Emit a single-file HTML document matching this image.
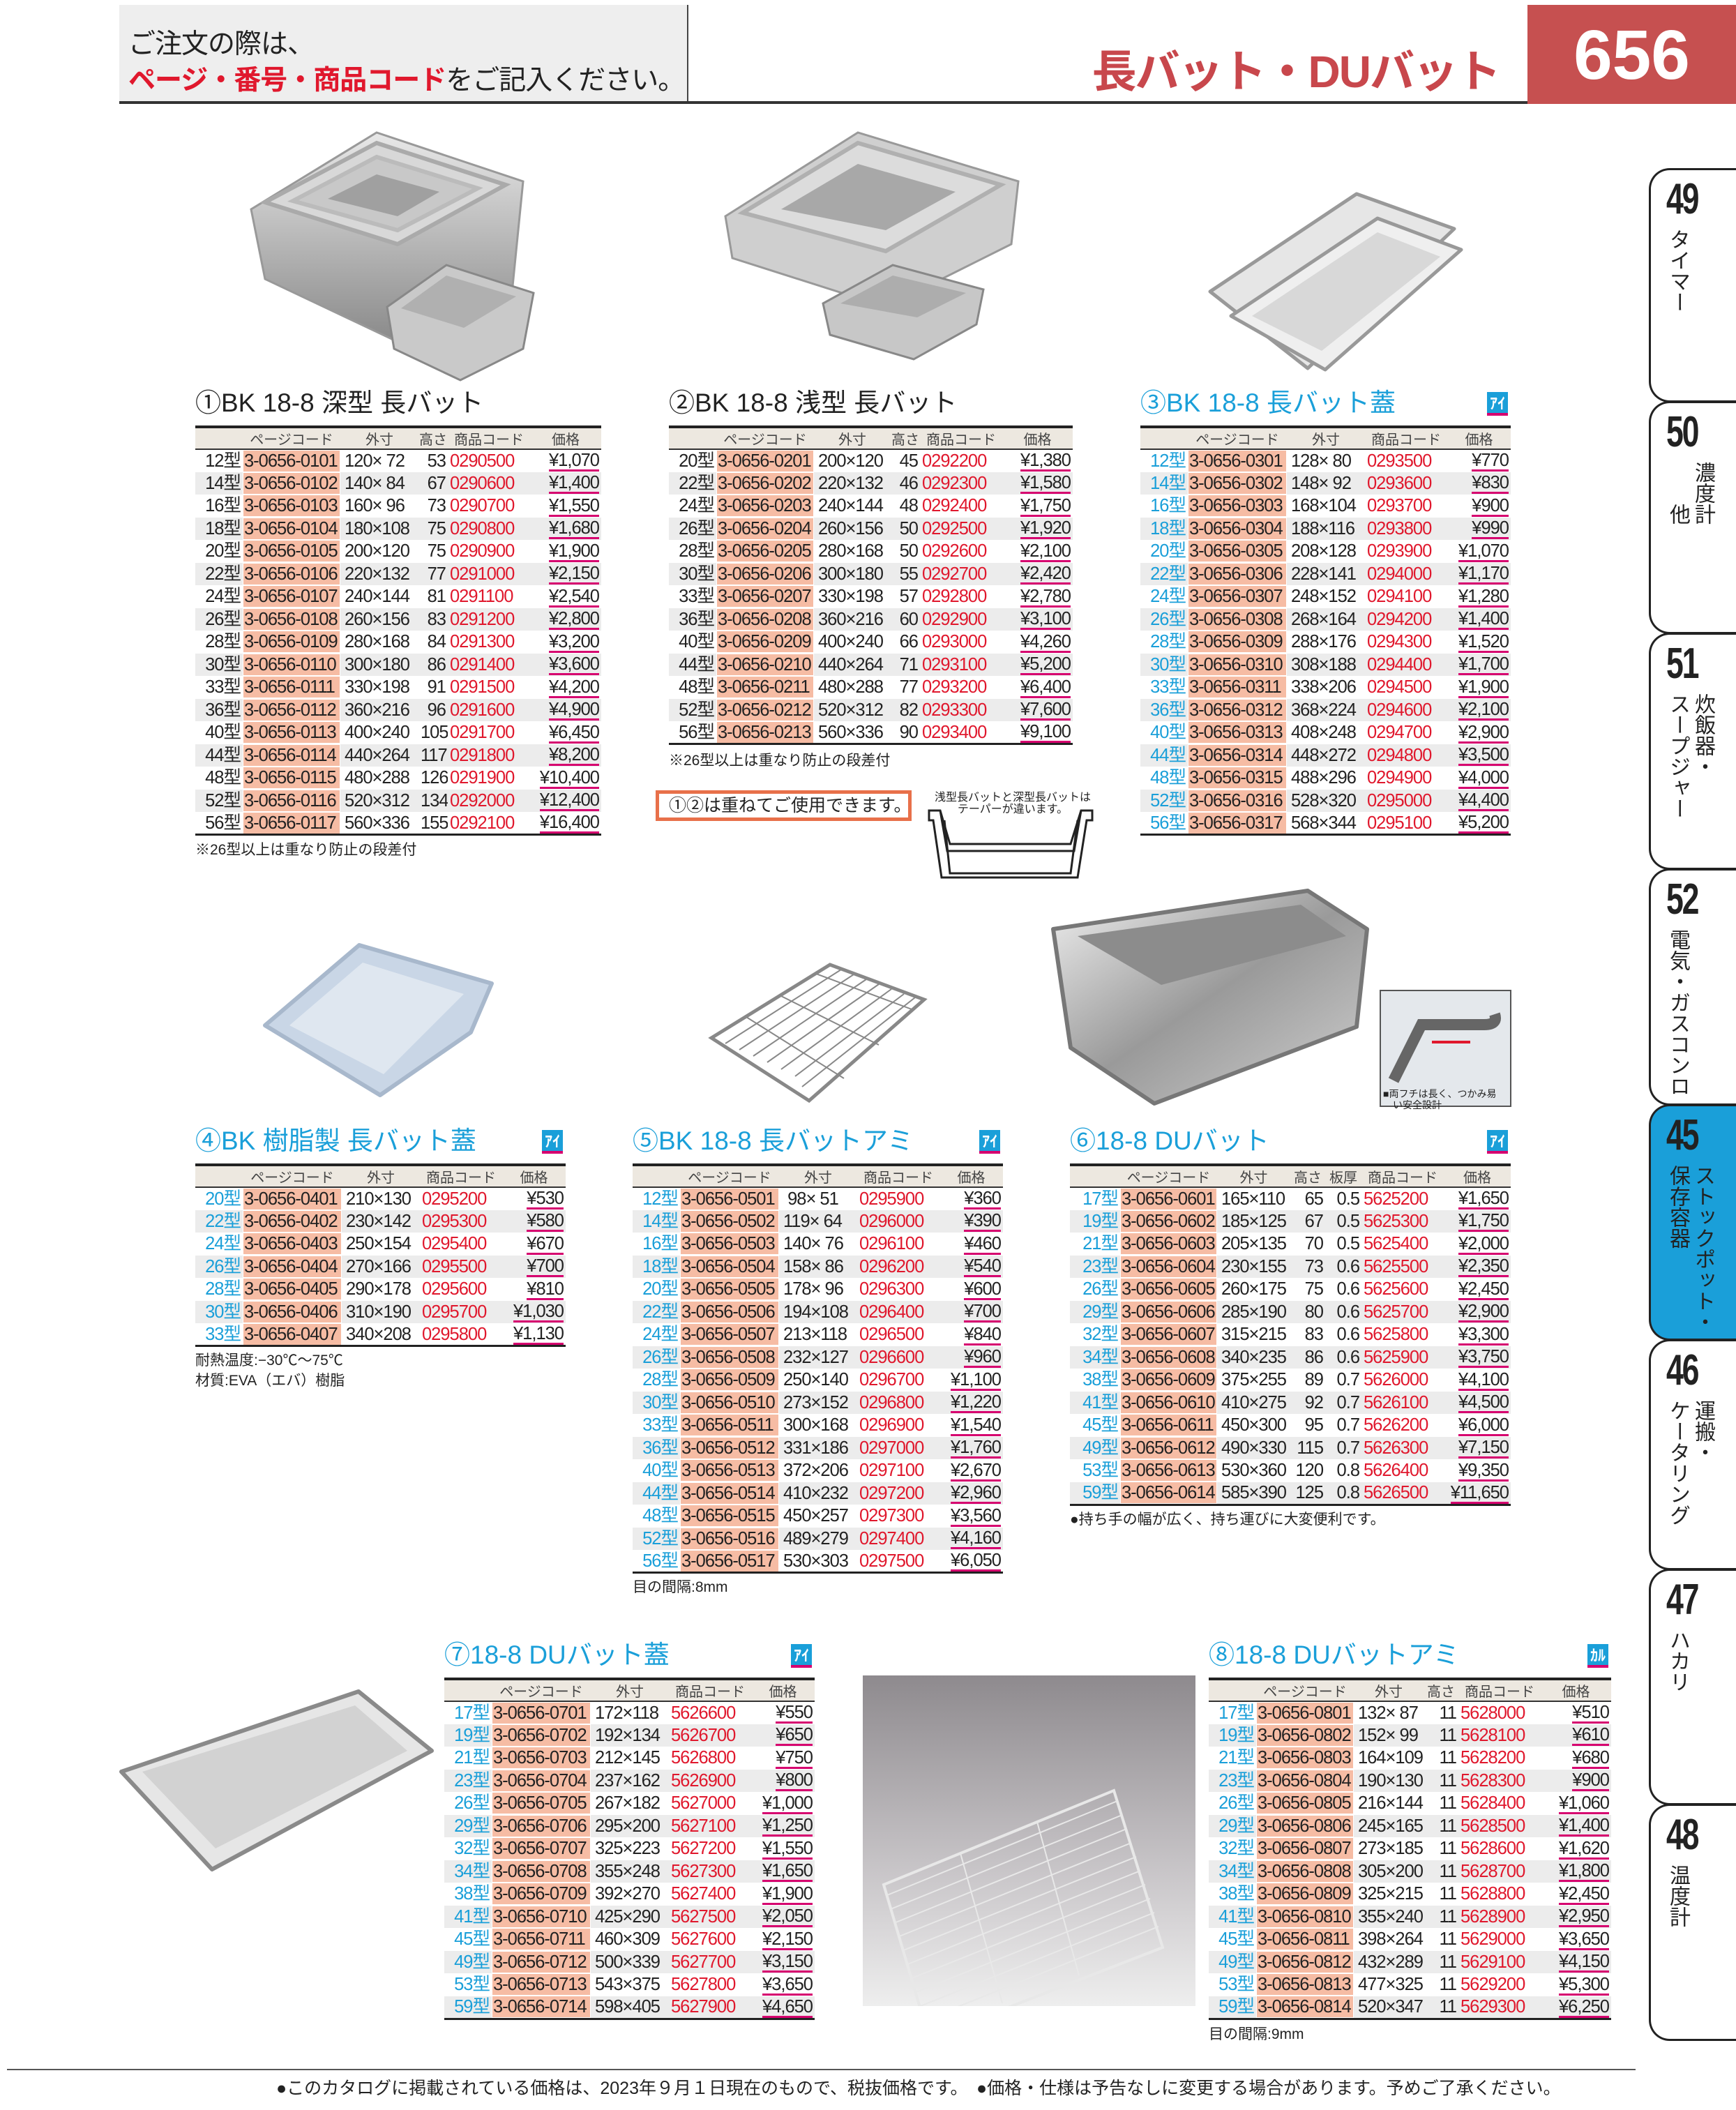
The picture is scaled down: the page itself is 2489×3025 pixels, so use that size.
<!DOCTYPE html>
<html><head><meta charset="utf-8">
<style>
*{margin:0;padding:0;box-sizing:border-box}
body{width:2489px;height:3025px;background:#fff;position:relative;overflow:hidden;font-family:"Liberation Sans","Noto Sans CJK JP",sans-serif;color:#222}
.a{position:absolute}
.ttl{position:absolute;font-size:37px;white-space:nowrap;line-height:44px}
.ttl.b{color:#1a9fd9}
.badge{position:absolute;width:30px;height:34px;background:#1a9fd9;color:#fff;font-size:22px;font-weight:bold;text-align:center;line-height:34px;border-bottom:4px solid #d6006f}
table{position:absolute;border-collapse:collapse;table-layout:fixed;border-top:4px solid #222;border-bottom:3px solid #222}
th{height:30px;background:#ede8e0;font-weight:normal;font-size:20px;color:#444;border-bottom:2px solid #333;white-space:nowrap}
td{height:32.5px;font-size:25.5px;letter-spacing:-1px;white-space:nowrap;overflow:hidden;padding:0 3px;line-height:30px}
tbody tr:nth-child(even) td{background:#ececec}
td.k{text-align:right}
.bl td.k{color:#1a9fd9}
td.p{padding:0 1px}
td.p span{display:block;background:#f6bca4;padding:0 1px}
tbody tr:nth-child(even) td.p{background:#fff}
td.s{text-align:left;padding-left:6px}
td.h{text-align:right}
td.c{color:#e0182d}
td.y{text-align:right}
td.y span{border-bottom:3px solid #d6006f;line-height:26px;display:inline-block}
.note{position:absolute;font-size:21px;white-space:nowrap;color:#222}
.tab{position:absolute;left:2364px;width:140px;border:3px solid #222;border-right:none;border-radius:30px 0 0 30px;background:#fff}
.tab .n{position:absolute;left:22px;top:6px;font-size:62px;font-weight:bold;letter-spacing:-3px;transform:scaleX(.72);transform-origin:left top}
.tab .v{position:absolute;top:84px;left:20px;writing-mode:vertical-rl;font-size:30px;line-height:36px;height:250px}
</style></head><body>

<!-- header -->
<div class="a" style="left:171px;top:7px;width:816px;height:140px;background:#eeeeee;border-right:2px solid #444"></div>
<div class="a" style="left:184px;top:38px;font-size:39px;line-height:52px;white-space:nowrap;letter-spacing:-1px">ご注文の際は、<br><span style="color:#e0182d;font-weight:bold">ページ・番号・商品コード</span>をご記入ください。</div>
<div class="a" style="left:171px;top:145px;width:2020px;height:4px;background:#333"></div>
<div class="a" style="right:339px;top:52px;font-size:64px;font-weight:bold;color:#c8474c;white-space:nowrap;letter-spacing:-2px">長バット・DUバット</div>
<div class="a" style="left:2190px;top:7px;width:299px;height:142px;background:#c65050"></div>
<div class="a" style="left:2190px;top:22px;width:299px;text-align:center;font-size:100px;font-weight:bold;color:#fff">656</div>

<!-- images -->
<svg class="a" style="left:340px;top:180px" width="430" height="370" viewBox="0 0 430 370">
<defs><linearGradient id="g1" x1="0" y1="0" x2="0" y2="1"><stop offset="0" stop-color="#e8e8e8"/><stop offset="1" stop-color="#8a8a8a"/></linearGradient></defs>
<polygon points="20,120 200,10 410,80 395,230 230,310 40,220" fill="url(#g1)" stroke="#999" stroke-width="3"/>
<polygon points="40,110 200,25 385,85 230,170" fill="#d8d8d8" stroke="#aaa" stroke-width="6"/>
<polygon points="80,108 200,45 345,90 230,150" fill="#c8c8c8" stroke="#bbb" stroke-width="6"/>
<polygon points="130,105 200,70 290,95 230,130" fill="#a0a0a0"/>
<polygon points="215,260 300,200 425,240 410,320 320,365 225,320" fill="#c9c9c9" stroke="#888" stroke-width="3"/>
<polygon points="235,262 300,215 400,245 325,290" fill="#b0b0b0"/>
</svg>
<svg class="a" style="left:1030px;top:180px" width="440" height="340" viewBox="0 0 440 340">
<polygon points="10,130 200,10 430,80 420,170 240,260 20,190" fill="#cfcfcf" stroke="#999" stroke-width="3"/>
<polygon points="35,125 200,25 405,85 240,180" fill="#dcdcdc" stroke="#b0b0b0" stroke-width="6"/>
<polygon points="90,120 200,55 340,95 240,150" fill="#a8a8a8"/>
<polygon points="150,255 250,200 380,235 370,285 280,335 160,300" fill="#c7c7c7" stroke="#888" stroke-width="3"/>
<polygon points="175,255 250,215 355,240 285,275" fill="#adadad"/>
</svg>
<svg class="a" style="left:1725px;top:268px" width="375" height="265" viewBox="0 0 375 265">
<polygon points="10,150 220,10 360,60 150,260" fill="#e6e6e6" stroke="#999" stroke-width="5" stroke-linejoin="round"/>
<polygon points="40,185 250,45 370,90 175,262" fill="#efefef" stroke="#999" stroke-width="5" stroke-linejoin="round"/>
<polygon points="70,185 250,65 340,100 170,235" fill="#d8d8d8"/>
</svg>
<svg class="a" style="left:375px;top:1350px" width="335" height="225" viewBox="0 0 335 225">
<polygon points="5,120 140,5 330,60 300,130 170,220" fill="#c9d6e6" stroke="#a8b8cc" stroke-width="6" stroke-linejoin="round"/>
<polygon points="40,120 145,30 290,75 175,190" fill="#dfe7f0"/>
</svg>
<svg class="a" style="left:1010px;top:1378px" width="325" height="225" viewBox="0 0 325 225" fill="none" stroke="#888" stroke-width="3">
<polygon points="10,110 180,5 315,55 150,200" stroke-width="5"/>
<g stroke-width="2">
<line x1="30" y1="118" x2="196" y2="12"/><line x1="50" y1="127" x2="214" y2="19"/><line x1="70" y1="136" x2="232" y2="26"/><line x1="90" y1="145" x2="250" y2="33"/><line x1="110" y1="155" x2="268" y2="40"/><line x1="130" y1="165" x2="286" y2="47"/><line x1="140" y1="180" x2="302" y2="52"/>
<line x1="10" y1="110" x2="150" y2="200"/><line x1="60" y1="80" x2="200" y2="168"/><line x1="110" y1="50" x2="250" y2="120"/><line x1="160" y1="18" x2="300" y2="70"/></g>
</svg>
<svg class="a" style="left:1505px;top:1272px" width="460" height="315" viewBox="0 0 460 315">
<defs><linearGradient id="g6" x1="0" y1="0" x2="1" y2="1"><stop offset="0" stop-color="#f0f0f0"/><stop offset=".5" stop-color="#9a9a9a"/><stop offset="1" stop-color="#d0d0d0"/></linearGradient></defs>
<polygon points="5,60 370,5 455,60 440,200 150,310 30,230" fill="url(#g6)" stroke="#777" stroke-width="6" stroke-linejoin="round"/>
<polygon points="40,70 360,25 425,70 160,140" fill="#8c8c8c"/>
</svg>
<div class="a" style="left:1978px;top:1419px;width:189px;height:168px;border:2px solid #555;background:#e4e8ec"></div>
<svg class="a" style="left:1978px;top:1419px" width="189" height="140" viewBox="0 0 189 140"><path d="M20 130 L60 50 L150 50 Q170 50 165 35" fill="none" stroke="#666" stroke-width="16"/><line x1="75" y1="75" x2="130" y2="75" stroke="#e0182d" stroke-width="4"/></svg>
<div class="note" style="left:1983px;top:1560px;font-size:14px;line-height:16px">■両フチは長く、つかみ易<br>　い安全設計</div>
<svg class="a" style="left:164px;top:2420px" width="460" height="265" viewBox="0 0 460 265">
<polygon points="10,120 350,5 455,90 140,260" fill="#e6e6e6" stroke="#8a8a8a" stroke-width="6" stroke-linejoin="round"/>
<polygon points="40,120 345,25 420,90 145,230" fill="#d2d2d2"/>
</svg>
<div class="a" style="left:1237px;top:2402px;width:477px;height:474px;background:linear-gradient(#8e8a8e,#c9c6c9 60%,#eeeeee)"></div>
<svg class="a" style="left:1237px;top:2402px" width="477" height="474" viewBox="0 0 477 474" fill="none" stroke="#e8e8e8">
<polygon points="30,300 360,165 430,390 95,520" stroke-width="4"/>
<g stroke-width="2"><line x1="35" y1="315" x2="365" y2="180"/><line x1="40" y1="335" x2="372" y2="200"/><line x1="45" y1="355" x2="378" y2="220"/><line x1="50" y1="375" x2="385" y2="240"/><line x1="56" y1="395" x2="392" y2="260"/><line x1="62" y1="415" x2="398" y2="280"/><line x1="68" y1="435" x2="405" y2="300"/><line x1="74" y1="455" x2="412" y2="320"/><line x1="80" y1="475" x2="418" y2="340"/><line x1="86" y1="495" x2="424" y2="360"/>
<line x1="140" y1="255" x2="200" y2="470"/><line x1="250" y1="210" x2="310" y2="430"/></g>
</svg>

<!-- T1 -->
<div class="ttl" style="left:280px;top:556px">①BK 18-8 深型 長バット</div>
<table style="left:280px;top:610px;width:582px">
<colgroup><col style="width:68px"><col style="width:140px"><col style="width:112px"><col style="width:42px"><col style="width:118px"><col style="width:102px"></colgroup>
<thead><tr><th></th><th>ページコード</th><th>外寸</th><th>高さ</th><th>商品コード</th><th>価格</th></tr></thead>
<tbody>
<tr><td class="k">12型</td><td class="p"><span>3-0656-0101</span></td><td class="s">120× 72</td><td class="h">53</td><td class="c">0290500</td><td class="y"><span>¥1,070</span></td></tr>
<tr><td class="k">14型</td><td class="p"><span>3-0656-0102</span></td><td class="s">140× 84</td><td class="h">67</td><td class="c">0290600</td><td class="y"><span>¥1,400</span></td></tr>
<tr><td class="k">16型</td><td class="p"><span>3-0656-0103</span></td><td class="s">160× 96</td><td class="h">73</td><td class="c">0290700</td><td class="y"><span>¥1,550</span></td></tr>
<tr><td class="k">18型</td><td class="p"><span>3-0656-0104</span></td><td class="s">180×108</td><td class="h">75</td><td class="c">0290800</td><td class="y"><span>¥1,680</span></td></tr>
<tr><td class="k">20型</td><td class="p"><span>3-0656-0105</span></td><td class="s">200×120</td><td class="h">75</td><td class="c">0290900</td><td class="y"><span>¥1,900</span></td></tr>
<tr><td class="k">22型</td><td class="p"><span>3-0656-0106</span></td><td class="s">220×132</td><td class="h">77</td><td class="c">0291000</td><td class="y"><span>¥2,150</span></td></tr>
<tr><td class="k">24型</td><td class="p"><span>3-0656-0107</span></td><td class="s">240×144</td><td class="h">81</td><td class="c">0291100</td><td class="y"><span>¥2,540</span></td></tr>
<tr><td class="k">26型</td><td class="p"><span>3-0656-0108</span></td><td class="s">260×156</td><td class="h">83</td><td class="c">0291200</td><td class="y"><span>¥2,800</span></td></tr>
<tr><td class="k">28型</td><td class="p"><span>3-0656-0109</span></td><td class="s">280×168</td><td class="h">84</td><td class="c">0291300</td><td class="y"><span>¥3,200</span></td></tr>
<tr><td class="k">30型</td><td class="p"><span>3-0656-0110</span></td><td class="s">300×180</td><td class="h">86</td><td class="c">0291400</td><td class="y"><span>¥3,600</span></td></tr>
<tr><td class="k">33型</td><td class="p"><span>3-0656-0111</span></td><td class="s">330×198</td><td class="h">91</td><td class="c">0291500</td><td class="y"><span>¥4,200</span></td></tr>
<tr><td class="k">36型</td><td class="p"><span>3-0656-0112</span></td><td class="s">360×216</td><td class="h">96</td><td class="c">0291600</td><td class="y"><span>¥4,900</span></td></tr>
<tr><td class="k">40型</td><td class="p"><span>3-0656-0113</span></td><td class="s">400×240</td><td class="h">105</td><td class="c">0291700</td><td class="y"><span>¥6,450</span></td></tr>
<tr><td class="k">44型</td><td class="p"><span>3-0656-0114</span></td><td class="s">440×264</td><td class="h">117</td><td class="c">0291800</td><td class="y"><span>¥8,200</span></td></tr>
<tr><td class="k">48型</td><td class="p"><span>3-0656-0115</span></td><td class="s">480×288</td><td class="h">126</td><td class="c">0291900</td><td class="y"><span>¥10,400</span></td></tr>
<tr><td class="k">52型</td><td class="p"><span>3-0656-0116</span></td><td class="s">520×312</td><td class="h">134</td><td class="c">0292000</td><td class="y"><span>¥12,400</span></td></tr>
<tr><td class="k">56型</td><td class="p"><span>3-0656-0117</span></td><td class="s">560×336</td><td class="h">155</td><td class="c">0292100</td><td class="y"><span>¥16,400</span></td></tr>
</tbody></table>
<div class="note" style="left:280px;top:1202px">※26型以上は重なり防止の段差付</div>

<!-- T2 -->
<div class="ttl" style="left:959px;top:556px">②BK 18-8 浅型 長バット</div>
<table style="left:959px;top:610px;width:579px">
<colgroup><col style="width:68px"><col style="width:140px"><col style="width:110px"><col style="width:42px"><col style="width:118px"><col style="width:101px"></colgroup>
<thead><tr><th></th><th>ページコード</th><th>外寸</th><th>高さ</th><th>商品コード</th><th>価格</th></tr></thead>
<tbody>
<tr><td class="k">20型</td><td class="p"><span>3-0656-0201</span></td><td class="s">200×120</td><td class="h">45</td><td class="c">0292200</td><td class="y"><span>¥1,380</span></td></tr>
<tr><td class="k">22型</td><td class="p"><span>3-0656-0202</span></td><td class="s">220×132</td><td class="h">46</td><td class="c">0292300</td><td class="y"><span>¥1,580</span></td></tr>
<tr><td class="k">24型</td><td class="p"><span>3-0656-0203</span></td><td class="s">240×144</td><td class="h">48</td><td class="c">0292400</td><td class="y"><span>¥1,750</span></td></tr>
<tr><td class="k">26型</td><td class="p"><span>3-0656-0204</span></td><td class="s">260×156</td><td class="h">50</td><td class="c">0292500</td><td class="y"><span>¥1,920</span></td></tr>
<tr><td class="k">28型</td><td class="p"><span>3-0656-0205</span></td><td class="s">280×168</td><td class="h">50</td><td class="c">0292600</td><td class="y"><span>¥2,100</span></td></tr>
<tr><td class="k">30型</td><td class="p"><span>3-0656-0206</span></td><td class="s">300×180</td><td class="h">55</td><td class="c">0292700</td><td class="y"><span>¥2,420</span></td></tr>
<tr><td class="k">33型</td><td class="p"><span>3-0656-0207</span></td><td class="s">330×198</td><td class="h">57</td><td class="c">0292800</td><td class="y"><span>¥2,780</span></td></tr>
<tr><td class="k">36型</td><td class="p"><span>3-0656-0208</span></td><td class="s">360×216</td><td class="h">60</td><td class="c">0292900</td><td class="y"><span>¥3,100</span></td></tr>
<tr><td class="k">40型</td><td class="p"><span>3-0656-0209</span></td><td class="s">400×240</td><td class="h">66</td><td class="c">0293000</td><td class="y"><span>¥4,260</span></td></tr>
<tr><td class="k">44型</td><td class="p"><span>3-0656-0210</span></td><td class="s">440×264</td><td class="h">71</td><td class="c">0293100</td><td class="y"><span>¥5,200</span></td></tr>
<tr><td class="k">48型</td><td class="p"><span>3-0656-0211</span></td><td class="s">480×288</td><td class="h">77</td><td class="c">0293200</td><td class="y"><span>¥6,400</span></td></tr>
<tr><td class="k">52型</td><td class="p"><span>3-0656-0212</span></td><td class="s">520×312</td><td class="h">82</td><td class="c">0293300</td><td class="y"><span>¥7,600</span></td></tr>
<tr><td class="k">56型</td><td class="p"><span>3-0656-0213</span></td><td class="s">560×336</td><td class="h">90</td><td class="c">0293400</td><td class="y"><span>¥9,100</span></td></tr>
</tbody></table>
<div class="note" style="left:959px;top:1074px">※26型以上は重なり防止の段差付</div>
<div class="a" style="left:940px;top:1133px;width:367px;height:44px;border:5px solid #e8704a;font-size:25px;line-height:34px;padding-left:14px;white-space:nowrap">①②は重ねてご使用できます。</div>
<div class="note" style="left:1340px;top:1135px;font-size:16px;line-height:17px;text-align:center">浅型長バットと深型長バットは<br>テーパーが違います。</div>
<svg class="a" style="left:1330px;top:1160px" width="240" height="110" viewBox="0 0 240 110" fill="none" stroke="#222" stroke-width="3">
<path d="M2 2 H18 L32 50 H205 L220 2 H236 V16 H228 L215 98 H20 L8 16 H2 Z"/><path d="M18 2 L28 60 H210 L220 2"/><path d="M24 16 L32 92 H205 L215 16"/>
</svg>

<!-- T3 -->
<div class="ttl b" style="left:1635px;top:556px">③BK 18-8 長バット蓋</div>
<div class="badge" style="left:2132px;top:562px">ｱｲ</div>
<table class="bl" style="left:1635px;top:610px;width:531px">
<colgroup><col style="width:68px"><col style="width:142px"><col style="width:112px"><col style="width:118px"><col style="width:91px"></colgroup>
<thead><tr><th></th><th>ページコード</th><th>外寸</th><th>商品コード</th><th>価格</th></tr></thead>
<tbody>
<tr><td class="k">12型</td><td class="p"><span>3-0656-0301</span></td><td class="s">128× 80</td><td class="c">0293500</td><td class="y"><span>¥770</span></td></tr>
<tr><td class="k">14型</td><td class="p"><span>3-0656-0302</span></td><td class="s">148× 92</td><td class="c">0293600</td><td class="y"><span>¥830</span></td></tr>
<tr><td class="k">16型</td><td class="p"><span>3-0656-0303</span></td><td class="s">168×104</td><td class="c">0293700</td><td class="y"><span>¥900</span></td></tr>
<tr><td class="k">18型</td><td class="p"><span>3-0656-0304</span></td><td class="s">188×116</td><td class="c">0293800</td><td class="y"><span>¥990</span></td></tr>
<tr><td class="k">20型</td><td class="p"><span>3-0656-0305</span></td><td class="s">208×128</td><td class="c">0293900</td><td class="y"><span>¥1,070</span></td></tr>
<tr><td class="k">22型</td><td class="p"><span>3-0656-0306</span></td><td class="s">228×141</td><td class="c">0294000</td><td class="y"><span>¥1,170</span></td></tr>
<tr><td class="k">24型</td><td class="p"><span>3-0656-0307</span></td><td class="s">248×152</td><td class="c">0294100</td><td class="y"><span>¥1,280</span></td></tr>
<tr><td class="k">26型</td><td class="p"><span>3-0656-0308</span></td><td class="s">268×164</td><td class="c">0294200</td><td class="y"><span>¥1,400</span></td></tr>
<tr><td class="k">28型</td><td class="p"><span>3-0656-0309</span></td><td class="s">288×176</td><td class="c">0294300</td><td class="y"><span>¥1,520</span></td></tr>
<tr><td class="k">30型</td><td class="p"><span>3-0656-0310</span></td><td class="s">308×188</td><td class="c">0294400</td><td class="y"><span>¥1,700</span></td></tr>
<tr><td class="k">33型</td><td class="p"><span>3-0656-0311</span></td><td class="s">338×206</td><td class="c">0294500</td><td class="y"><span>¥1,900</span></td></tr>
<tr><td class="k">36型</td><td class="p"><span>3-0656-0312</span></td><td class="s">368×224</td><td class="c">0294600</td><td class="y"><span>¥2,100</span></td></tr>
<tr><td class="k">40型</td><td class="p"><span>3-0656-0313</span></td><td class="s">408×248</td><td class="c">0294700</td><td class="y"><span>¥2,900</span></td></tr>
<tr><td class="k">44型</td><td class="p"><span>3-0656-0314</span></td><td class="s">448×272</td><td class="c">0294800</td><td class="y"><span>¥3,500</span></td></tr>
<tr><td class="k">48型</td><td class="p"><span>3-0656-0315</span></td><td class="s">488×296</td><td class="c">0294900</td><td class="y"><span>¥4,000</span></td></tr>
<tr><td class="k">52型</td><td class="p"><span>3-0656-0316</span></td><td class="s">528×320</td><td class="c">0295000</td><td class="y"><span>¥4,400</span></td></tr>
<tr><td class="k">56型</td><td class="p"><span>3-0656-0317</span></td><td class="s">568×344</td><td class="c">0295100</td><td class="y"><span>¥5,200</span></td></tr>
</tbody></table>

<!-- T4 -->
<div class="ttl b" style="left:280px;top:1614px">④BK 樹脂製 長バット蓋</div>
<div class="badge" style="left:777px;top:1620px">ｱｲ</div>
<table class="bl" style="left:280px;top:1668px;width:531px">
<colgroup><col style="width:68px"><col style="width:142px"><col style="width:112px"><col style="width:118px"><col style="width:91px"></colgroup>
<thead><tr><th></th><th>ページコード</th><th>外寸</th><th>商品コード</th><th>価格</th></tr></thead>
<tbody>
<tr><td class="k">20型</td><td class="p"><span>3-0656-0401</span></td><td class="s">210×130</td><td class="c">0295200</td><td class="y"><span>¥530</span></td></tr>
<tr><td class="k">22型</td><td class="p"><span>3-0656-0402</span></td><td class="s">230×142</td><td class="c">0295300</td><td class="y"><span>¥580</span></td></tr>
<tr><td class="k">24型</td><td class="p"><span>3-0656-0403</span></td><td class="s">250×154</td><td class="c">0295400</td><td class="y"><span>¥670</span></td></tr>
<tr><td class="k">26型</td><td class="p"><span>3-0656-0404</span></td><td class="s">270×166</td><td class="c">0295500</td><td class="y"><span>¥700</span></td></tr>
<tr><td class="k">28型</td><td class="p"><span>3-0656-0405</span></td><td class="s">290×178</td><td class="c">0295600</td><td class="y"><span>¥810</span></td></tr>
<tr><td class="k">30型</td><td class="p"><span>3-0656-0406</span></td><td class="s">310×190</td><td class="c">0295700</td><td class="y"><span>¥1,030</span></td></tr>
<tr><td class="k">33型</td><td class="p"><span>3-0656-0407</span></td><td class="s">340×208</td><td class="c">0295800</td><td class="y"><span>¥1,130</span></td></tr>
</tbody></table>
<div class="note" style="left:280px;top:1936px;line-height:29px">耐熱温度:−30℃〜75℃<br>材質:EVA（エバ）樹脂</div>

<!-- T5 -->
<div class="ttl b" style="left:907px;top:1614px">⑤BK 18-8 長バットアミ</div>
<div class="badge" style="left:1404px;top:1620px">ｱｲ</div>
<table class="bl" style="left:907px;top:1668px;width:531px">
<colgroup><col style="width:68px"><col style="width:142px"><col style="width:112px"><col style="width:118px"><col style="width:91px"></colgroup>
<thead><tr><th></th><th>ページコード</th><th>外寸</th><th>商品コード</th><th>価格</th></tr></thead>
<tbody>
<tr><td class="k">12型</td><td class="p"><span>3-0656-0501</span></td><td class="s">&nbsp;98× 51</td><td class="c">0295900</td><td class="y"><span>¥360</span></td></tr>
<tr><td class="k">14型</td><td class="p"><span>3-0656-0502</span></td><td class="s">119× 64</td><td class="c">0296000</td><td class="y"><span>¥390</span></td></tr>
<tr><td class="k">16型</td><td class="p"><span>3-0656-0503</span></td><td class="s">140× 76</td><td class="c">0296100</td><td class="y"><span>¥460</span></td></tr>
<tr><td class="k">18型</td><td class="p"><span>3-0656-0504</span></td><td class="s">158× 86</td><td class="c">0296200</td><td class="y"><span>¥540</span></td></tr>
<tr><td class="k">20型</td><td class="p"><span>3-0656-0505</span></td><td class="s">178× 96</td><td class="c">0296300</td><td class="y"><span>¥600</span></td></tr>
<tr><td class="k">22型</td><td class="p"><span>3-0656-0506</span></td><td class="s">194×108</td><td class="c">0296400</td><td class="y"><span>¥700</span></td></tr>
<tr><td class="k">24型</td><td class="p"><span>3-0656-0507</span></td><td class="s">213×118</td><td class="c">0296500</td><td class="y"><span>¥840</span></td></tr>
<tr><td class="k">26型</td><td class="p"><span>3-0656-0508</span></td><td class="s">232×127</td><td class="c">0296600</td><td class="y"><span>¥960</span></td></tr>
<tr><td class="k">28型</td><td class="p"><span>3-0656-0509</span></td><td class="s">250×140</td><td class="c">0296700</td><td class="y"><span>¥1,100</span></td></tr>
<tr><td class="k">30型</td><td class="p"><span>3-0656-0510</span></td><td class="s">273×152</td><td class="c">0296800</td><td class="y"><span>¥1,220</span></td></tr>
<tr><td class="k">33型</td><td class="p"><span>3-0656-0511</span></td><td class="s">300×168</td><td class="c">0296900</td><td class="y"><span>¥1,540</span></td></tr>
<tr><td class="k">36型</td><td class="p"><span>3-0656-0512</span></td><td class="s">331×186</td><td class="c">0297000</td><td class="y"><span>¥1,760</span></td></tr>
<tr><td class="k">40型</td><td class="p"><span>3-0656-0513</span></td><td class="s">372×206</td><td class="c">0297100</td><td class="y"><span>¥2,670</span></td></tr>
<tr><td class="k">44型</td><td class="p"><span>3-0656-0514</span></td><td class="s">410×232</td><td class="c">0297200</td><td class="y"><span>¥2,960</span></td></tr>
<tr><td class="k">48型</td><td class="p"><span>3-0656-0515</span></td><td class="s">450×257</td><td class="c">0297300</td><td class="y"><span>¥3,560</span></td></tr>
<tr><td class="k">52型</td><td class="p"><span>3-0656-0516</span></td><td class="s">489×279</td><td class="c">0297400</td><td class="y"><span>¥4,160</span></td></tr>
<tr><td class="k">56型</td><td class="p"><span>3-0656-0517</span></td><td class="s">530×303</td><td class="c">0297500</td><td class="y"><span>¥6,050</span></td></tr>
</tbody></table>
<div class="note" style="left:907px;top:2259px">目の間隔:8mm</div>

<!-- T6 -->
<div class="ttl b" style="left:1534px;top:1614px">⑥18-8 DUバット</div>
<div class="badge" style="left:2132px;top:1620px">ｱｲ</div>
<table class="bl" style="left:1534px;top:1668px;width:632px">
<colgroup><col style="width:72px"><col style="width:139px"><col style="width:105px"><col style="width:50px"><col style="width:52px"><col style="width:118px"><col style="width:96px"></colgroup>
<thead><tr><th></th><th>ページコード</th><th>外寸</th><th>高さ</th><th>板厚</th><th>商品コード</th><th>価格</th></tr></thead>
<tbody>
<tr><td class="k">17型</td><td class="p"><span>3-0656-0601</span></td><td class="s">165×110</td><td class="h">65</td><td class="h">0.5</td><td class="c">5625200</td><td class="y"><span>¥1,650</span></td></tr>
<tr><td class="k">19型</td><td class="p"><span>3-0656-0602</span></td><td class="s">185×125</td><td class="h">67</td><td class="h">0.5</td><td class="c">5625300</td><td class="y"><span>¥1,750</span></td></tr>
<tr><td class="k">21型</td><td class="p"><span>3-0656-0603</span></td><td class="s">205×135</td><td class="h">70</td><td class="h">0.5</td><td class="c">5625400</td><td class="y"><span>¥2,000</span></td></tr>
<tr><td class="k">23型</td><td class="p"><span>3-0656-0604</span></td><td class="s">230×155</td><td class="h">73</td><td class="h">0.6</td><td class="c">5625500</td><td class="y"><span>¥2,350</span></td></tr>
<tr><td class="k">26型</td><td class="p"><span>3-0656-0605</span></td><td class="s">260×175</td><td class="h">75</td><td class="h">0.6</td><td class="c">5625600</td><td class="y"><span>¥2,450</span></td></tr>
<tr><td class="k">29型</td><td class="p"><span>3-0656-0606</span></td><td class="s">285×190</td><td class="h">80</td><td class="h">0.6</td><td class="c">5625700</td><td class="y"><span>¥2,900</span></td></tr>
<tr><td class="k">32型</td><td class="p"><span>3-0656-0607</span></td><td class="s">315×215</td><td class="h">83</td><td class="h">0.6</td><td class="c">5625800</td><td class="y"><span>¥3,300</span></td></tr>
<tr><td class="k">34型</td><td class="p"><span>3-0656-0608</span></td><td class="s">340×235</td><td class="h">86</td><td class="h">0.6</td><td class="c">5625900</td><td class="y"><span>¥3,750</span></td></tr>
<tr><td class="k">38型</td><td class="p"><span>3-0656-0609</span></td><td class="s">375×255</td><td class="h">89</td><td class="h">0.7</td><td class="c">5626000</td><td class="y"><span>¥4,100</span></td></tr>
<tr><td class="k">41型</td><td class="p"><span>3-0656-0610</span></td><td class="s">410×275</td><td class="h">92</td><td class="h">0.7</td><td class="c">5626100</td><td class="y"><span>¥4,500</span></td></tr>
<tr><td class="k">45型</td><td class="p"><span>3-0656-0611</span></td><td class="s">450×300</td><td class="h">95</td><td class="h">0.7</td><td class="c">5626200</td><td class="y"><span>¥6,000</span></td></tr>
<tr><td class="k">49型</td><td class="p"><span>3-0656-0612</span></td><td class="s">490×330</td><td class="h">115</td><td class="h">0.7</td><td class="c">5626300</td><td class="y"><span>¥7,150</span></td></tr>
<tr><td class="k">53型</td><td class="p"><span>3-0656-0613</span></td><td class="s">530×360</td><td class="h">120</td><td class="h">0.8</td><td class="c">5626400</td><td class="y"><span>¥9,350</span></td></tr>
<tr><td class="k">59型</td><td class="p"><span>3-0656-0614</span></td><td class="s">585×390</td><td class="h">125</td><td class="h">0.8</td><td class="c">5626500</td><td class="y"><span>¥11,650</span></td></tr>
</tbody></table>
<div class="note" style="left:1534px;top:2162px">●持ち手の幅が広く、持ち運びに大変便利です。</div>

<!-- T7 -->
<div class="ttl b" style="left:637px;top:2351px">⑦18-8 DUバット蓋</div>
<div class="badge" style="left:1134px;top:2357px">ｱｲ</div>
<table class="bl" style="left:637px;top:2405px;width:531px">
<colgroup><col style="width:68px"><col style="width:142px"><col style="width:112px"><col style="width:118px"><col style="width:91px"></colgroup>
<thead><tr><th></th><th>ページコード</th><th>外寸</th><th>商品コード</th><th>価格</th></tr></thead>
<tbody>
<tr><td class="k">17型</td><td class="p"><span>3-0656-0701</span></td><td class="s">172×118</td><td class="c">5626600</td><td class="y"><span>¥550</span></td></tr>
<tr><td class="k">19型</td><td class="p"><span>3-0656-0702</span></td><td class="s">192×134</td><td class="c">5626700</td><td class="y"><span>¥650</span></td></tr>
<tr><td class="k">21型</td><td class="p"><span>3-0656-0703</span></td><td class="s">212×145</td><td class="c">5626800</td><td class="y"><span>¥750</span></td></tr>
<tr><td class="k">23型</td><td class="p"><span>3-0656-0704</span></td><td class="s">237×162</td><td class="c">5626900</td><td class="y"><span>¥800</span></td></tr>
<tr><td class="k">26型</td><td class="p"><span>3-0656-0705</span></td><td class="s">267×182</td><td class="c">5627000</td><td class="y"><span>¥1,000</span></td></tr>
<tr><td class="k">29型</td><td class="p"><span>3-0656-0706</span></td><td class="s">295×200</td><td class="c">5627100</td><td class="y"><span>¥1,250</span></td></tr>
<tr><td class="k">32型</td><td class="p"><span>3-0656-0707</span></td><td class="s">325×223</td><td class="c">5627200</td><td class="y"><span>¥1,550</span></td></tr>
<tr><td class="k">34型</td><td class="p"><span>3-0656-0708</span></td><td class="s">355×248</td><td class="c">5627300</td><td class="y"><span>¥1,650</span></td></tr>
<tr><td class="k">38型</td><td class="p"><span>3-0656-0709</span></td><td class="s">392×270</td><td class="c">5627400</td><td class="y"><span>¥1,900</span></td></tr>
<tr><td class="k">41型</td><td class="p"><span>3-0656-0710</span></td><td class="s">425×290</td><td class="c">5627500</td><td class="y"><span>¥2,050</span></td></tr>
<tr><td class="k">45型</td><td class="p"><span>3-0656-0711</span></td><td class="s">460×309</td><td class="c">5627600</td><td class="y"><span>¥2,150</span></td></tr>
<tr><td class="k">49型</td><td class="p"><span>3-0656-0712</span></td><td class="s">500×339</td><td class="c">5627700</td><td class="y"><span>¥3,150</span></td></tr>
<tr><td class="k">53型</td><td class="p"><span>3-0656-0713</span></td><td class="s">543×375</td><td class="c">5627800</td><td class="y"><span>¥3,650</span></td></tr>
<tr><td class="k">59型</td><td class="p"><span>3-0656-0714</span></td><td class="s">598×405</td><td class="c">5627900</td><td class="y"><span>¥4,650</span></td></tr>
</tbody></table>

<!-- T8 -->
<div class="ttl b" style="left:1733px;top:2351px">⑧18-8 DUバットアミ</div>
<div class="badge" style="left:2276px;top:2357px">ｶﾙ</div>
<table class="bl" style="left:1733px;top:2405px;width:577px">
<colgroup><col style="width:68px"><col style="width:140px"><col style="width:100px"><col style="width:50px"><col style="width:118px"><col style="width:101px"></colgroup>
<thead><tr><th></th><th>ページコード</th><th>外寸</th><th>高さ</th><th>商品コード</th><th>価格</th></tr></thead>
<tbody>
<tr><td class="k">17型</td><td class="p"><span>3-0656-0801</span></td><td class="s">132× 87</td><td class="h">11</td><td class="c">5628000</td><td class="y"><span>¥510</span></td></tr>
<tr><td class="k">19型</td><td class="p"><span>3-0656-0802</span></td><td class="s">152× 99</td><td class="h">11</td><td class="c">5628100</td><td class="y"><span>¥610</span></td></tr>
<tr><td class="k">21型</td><td class="p"><span>3-0656-0803</span></td><td class="s">164×109</td><td class="h">11</td><td class="c">5628200</td><td class="y"><span>¥680</span></td></tr>
<tr><td class="k">23型</td><td class="p"><span>3-0656-0804</span></td><td class="s">190×130</td><td class="h">11</td><td class="c">5628300</td><td class="y"><span>¥900</span></td></tr>
<tr><td class="k">26型</td><td class="p"><span>3-0656-0805</span></td><td class="s">216×144</td><td class="h">11</td><td class="c">5628400</td><td class="y"><span>¥1,060</span></td></tr>
<tr><td class="k">29型</td><td class="p"><span>3-0656-0806</span></td><td class="s">245×165</td><td class="h">11</td><td class="c">5628500</td><td class="y"><span>¥1,400</span></td></tr>
<tr><td class="k">32型</td><td class="p"><span>3-0656-0807</span></td><td class="s">273×185</td><td class="h">11</td><td class="c">5628600</td><td class="y"><span>¥1,620</span></td></tr>
<tr><td class="k">34型</td><td class="p"><span>3-0656-0808</span></td><td class="s">305×200</td><td class="h">11</td><td class="c">5628700</td><td class="y"><span>¥1,800</span></td></tr>
<tr><td class="k">38型</td><td class="p"><span>3-0656-0809</span></td><td class="s">325×215</td><td class="h">11</td><td class="c">5628800</td><td class="y"><span>¥2,450</span></td></tr>
<tr><td class="k">41型</td><td class="p"><span>3-0656-0810</span></td><td class="s">355×240</td><td class="h">11</td><td class="c">5628900</td><td class="y"><span>¥2,950</span></td></tr>
<tr><td class="k">45型</td><td class="p"><span>3-0656-0811</span></td><td class="s">398×264</td><td class="h">11</td><td class="c">5629000</td><td class="y"><span>¥3,650</span></td></tr>
<tr><td class="k">49型</td><td class="p"><span>3-0656-0812</span></td><td class="s">432×289</td><td class="h">11</td><td class="c">5629100</td><td class="y"><span>¥4,150</span></td></tr>
<tr><td class="k">53型</td><td class="p"><span>3-0656-0813</span></td><td class="s">477×325</td><td class="h">11</td><td class="c">5629200</td><td class="y"><span>¥5,300</span></td></tr>
<tr><td class="k">59型</td><td class="p"><span>3-0656-0814</span></td><td class="s">520×347</td><td class="h">11</td><td class="c">5629300</td><td class="y"><span>¥6,250</span></td></tr>
</tbody></table>
<div class="note" style="left:1733px;top:2900px">目の間隔:9mm</div>

<!-- tabs -->
<div class="tab" style="top:241px;height:336px"><div class="n">49</div><div class="v">タイマー</div></div>
<div class="tab" style="top:575px;height:334px"><div class="n">50</div><div class="v">濃度計<br>　　他</div></div>
<div class="tab" style="top:907px;height:340px"><div class="n">51</div><div class="v">炊飯器・<br>スープジャー</div></div>
<div class="tab" style="top:1245px;height:340px"><div class="n">52</div><div class="v">電気・ガスコンロ</div></div>
<div class="tab" style="top:1583px;height:339px;background:#1a9fd9"><div class="n">45</div><div class="v">ストックポット・<br>保存容器</div></div>
<div class="tab" style="top:1920px;height:331px"><div class="n">46</div><div class="v">運搬・<br>ケータリング</div></div>
<div class="tab" style="top:2249px;height:339px"><div class="n">47</div><div class="v">ハカリ</div></div>
<div class="tab" style="top:2586px;height:340px"><div class="n">48</div><div class="v">温度計</div></div>

<!-- footer -->
<div class="a" style="left:10px;top:2966px;width:2335px;height:2px;background:#555"></div>
<div class="note" style="left:396px;top:2974px;font-size:25px">●このカタログに掲載されている価格は、2023年９月１日現在のもので、税抜価格です。　●価格・仕様は予告なしに変更する場合があります。予めご了承ください。</div>
</body></html>
